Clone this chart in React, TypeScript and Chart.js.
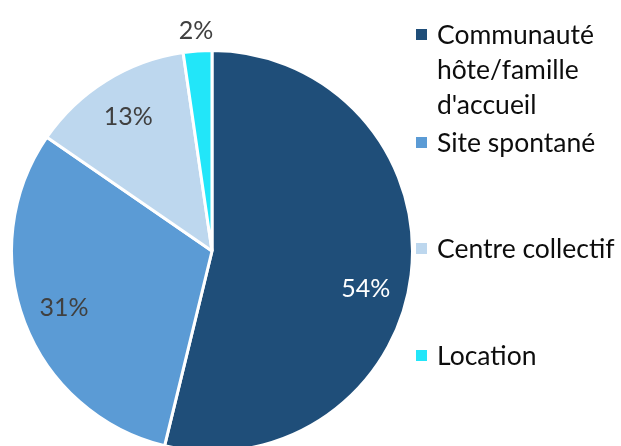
import React, { useEffect, useRef } from "react";
import { Chart, registerables } from "chart.js";

Chart.register(...registerables);

const categories = ["Communauté hôte/famille d'accueil", "Site spontané", "Centre collectif", "Location"];
const legendLines = [["Communauté", "hôte/famille", "d'accueil"], ["Site spontané"], ["Centre collectif"], ["Location"]];
const values = [53.8, 30.8, 13.1, 2.3];
const colors = ["#1F4E79", "#5B9BD5", "#BDD7EE", "#22E6F9"];
const labelColors = ["#FFFFFF", "#404040", "#404040", "#404040"];
const legendLineY = [[34, 69, 104], [142], [248], [355]];
const labelAngleNudgeDeg = [7, 0, 0, 0];

const FONT = "Lato, 'Open Sans', sans-serif";

const W = 621;
const H = 462;

const labelsPlugin = {
  id: "pctLabels",
  afterDatasetsDraw(chart: any) {
    const ctx = chart.ctx;
    const meta = chart.getDatasetMeta(0);
    const total = values.reduce((a, b) => a + b, 0);
    ctx.save();
    ctx.font = `25px ${FONT}`;
    ctx.textAlign = "center";
    ctx.textBaseline = "middle";
    meta.data.forEach((arc: any, i: number) => {
      const { x, y, startAngle, endAngle, outerRadius } = arc.getProps(["x", "y", "startAngle", "endAngle", "outerRadius"], true);
      const mid = (startAngle + endAngle) / 2 + (labelAngleNudgeDeg[i] * Math.PI) / 180;
      const pct = (values[i] / total) * 100;
      const f = pct < 5 ? 1.1 : 0.79;
      const px = x + Math.cos(mid) * outerRadius * f;
      const py = y + Math.sin(mid) * outerRadius * f;
      ctx.fillStyle = labelColors[i];
      ctx.fillText(Math.round(pct) + "%", px, py);
    });
    ctx.restore();
  },
};

const legendPlugin = {
  id: "sideLegend",
  afterDraw(chart: any) {
    const ctx = chart.ctx;
    ctx.save();
    ctx.font = `26.5px ${FONT}`;
    ctx.textBaseline = "middle";
    ctx.textAlign = "left";
    legendLines.forEach((lines, i) => {
      const ys = legendLineY[i];
      ctx.fillStyle = colors[i];
      ctx.fillRect(416, ys[0] - 5, 11, 11);
      ctx.fillStyle = "#0D0D0D";
      lines.forEach((t, j) => ctx.fillText(t, 437, ys[j] + 1));
    });
    ctx.restore();
  },
};

export default function App() {
  const ref = useRef<HTMLCanvasElement>(null);
  useEffect(() => {
    if (!ref.current) return;
    const chart = new Chart(ref.current, {
      type: "pie",
      data: {
        labels: categories,
        datasets: [
          {
            data: values,
            backgroundColor: colors,
            borderColor: "#FFFFFF",
            borderWidth: 3,
          },
        ],
      },
      options: {
        responsive: false,
        animation: false,
        layout: { padding: { left: 10, top: 49, right: W - 414, bottom: H - 453 } },
        plugins: {
          legend: { display: false },
          tooltip: { enabled: false },
        },
      },
      plugins: [labelsPlugin, legendPlugin],
    });
    return () => chart.destroy();
  }, []);
  return (
    <div style={{ position: "absolute", left: 0, top: 0, width: W, height: 446, overflow: "hidden", background: "#fff" }}>
      <canvas ref={ref} width={W} height={H} style={{ width: W, height: H, display: "block" }} />
    </div>
  );
}
